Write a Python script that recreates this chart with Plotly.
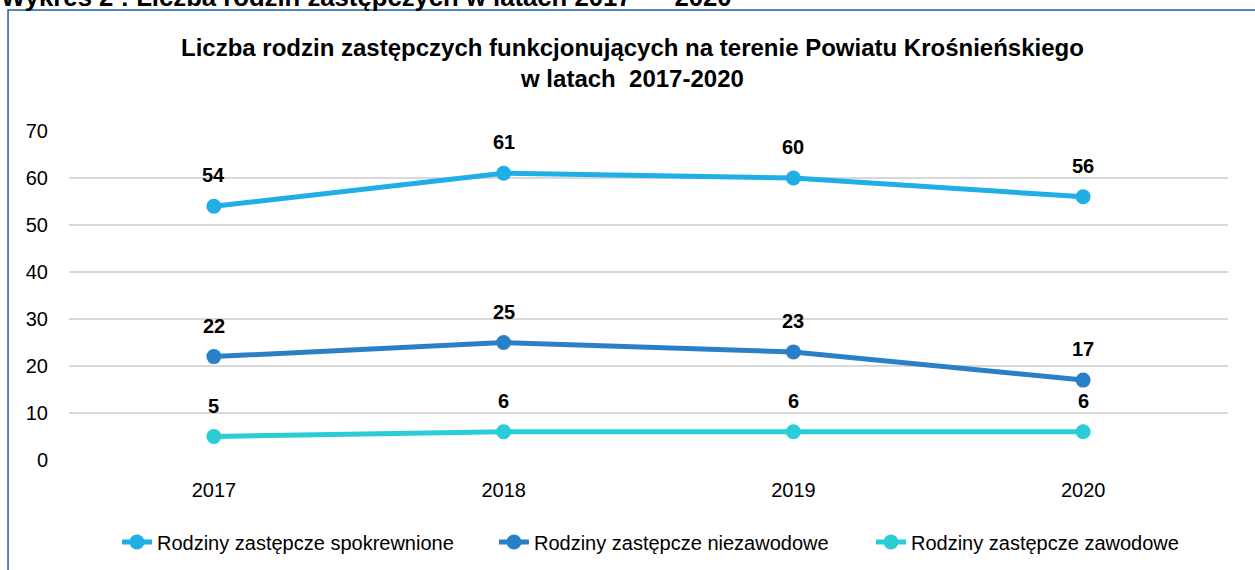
import plotly.graph_objects as go

years = ["2017", "2018", "2019", "2020"]
series_names = ["Rodziny zastępcze spokrewnione", "Rodziny zastępcze niezawodowe", "Rodziny zastępcze zawodowe"]
spokrewnione = [54, 61, 60, 56]
niezawodowe = [22, 25, 23, 17]
zawodowe = [5, 6, 6, 6]
colors = ["#1FAEE6", "#2A80C7", "#2ACDD6"]
y_ticks = [0, 10, 20, 30, 40, 50, 60, 70]

title_text = "<b>Liczba rodzin zastępczych funkcjonujących na terenie Powiatu Krośnieńskiego<br>w latach  2017-2020</b>"
caption_text = "<b>Wykres 2 : Liczba rodzin zastępczych w latach 2017 \u00a0–\u00a0 2020</b>"

FONT = "Liberation Sans, Arial, sans-serif"

fig = go.Figure()
annotations = []
for name, vals, col in zip(series_names, [spokrewnione, niezawodowe, zawodowe], colors):
    fig.add_trace(go.Scatter(
        x=years, y=vals, name=name, mode="lines+markers",
        line=dict(color=col, width=5),
        marker=dict(color=col, size=15),
    ))
    for i, yv in enumerate(vals):
        annotations.append(dict(
            x=i, y=yv, xref="x", yref="y", text=f"<b>{yv}</b>", showarrow=False,
            yshift=31, font=dict(family=FONT, size=20, color="#000000"),
        ))

annotations.append(dict(
    x=0.4866, xref="paper", y=1.2067, yref="paper", text=title_text, showarrow=False,
    xanchor="center", yanchor="middle",
    font=dict(family=FONT, size=24, color="#000000"),
))
annotations.append(dict(
    x=-0.0604, xref="paper", y=1.407, yref="paper", text=caption_text, showarrow=False,
    xanchor="left", yanchor="middle",
    font=dict(family=FONT, size=25.7, color="#000000"),
))

fig.update_layout(
    width=1255, height=570,
    margin=dict(l=69, r=27, t=131, b=110),
    paper_bgcolor="white", plot_bgcolor="white",
    showlegend=True,
    legend=dict(orientation="h", xref="container", x=0.0932, xanchor="left",
                yref="container", y=1 - 542 / 570, yanchor="middle",
                font=dict(family=FONT, size=20, color="#000000"),
                entrywidth=332, entrywidthmode="pixels", tracegroupgap=0),
    annotations=annotations,
    shapes=[dict(type="rect", xref="paper", yref="paper",
                 x0=-0.0526, x1=1.03, y0=-0.4, y1=1.3678,
                 line=dict(color="#1F5F9F", width=1.5), fillcolor="rgba(0,0,0,0)", layer="below")],
)
fig.update_xaxes(
    type="category", range=[-0.5, 3.5], showgrid=False, showline=False, zeroline=False,
    ticks="", ticklabelstandoff=16,
    tickfont=dict(family=FONT, size=20, color="#000000"),
)
fig.update_yaxes(
    range=[0, 70], tickvals=y_ticks, showgrid=True, gridcolor="#D9D9D9", gridwidth=2,
    zeroline=False, showline=False, ticks="", ticklabelstandoff=20,
    tickfont=dict(family=FONT, size=20, color="#000000"),
)
fig.write_html("out.html", config={"displayModeBar": False},
               post_script="document.body.style.margin='0';")
